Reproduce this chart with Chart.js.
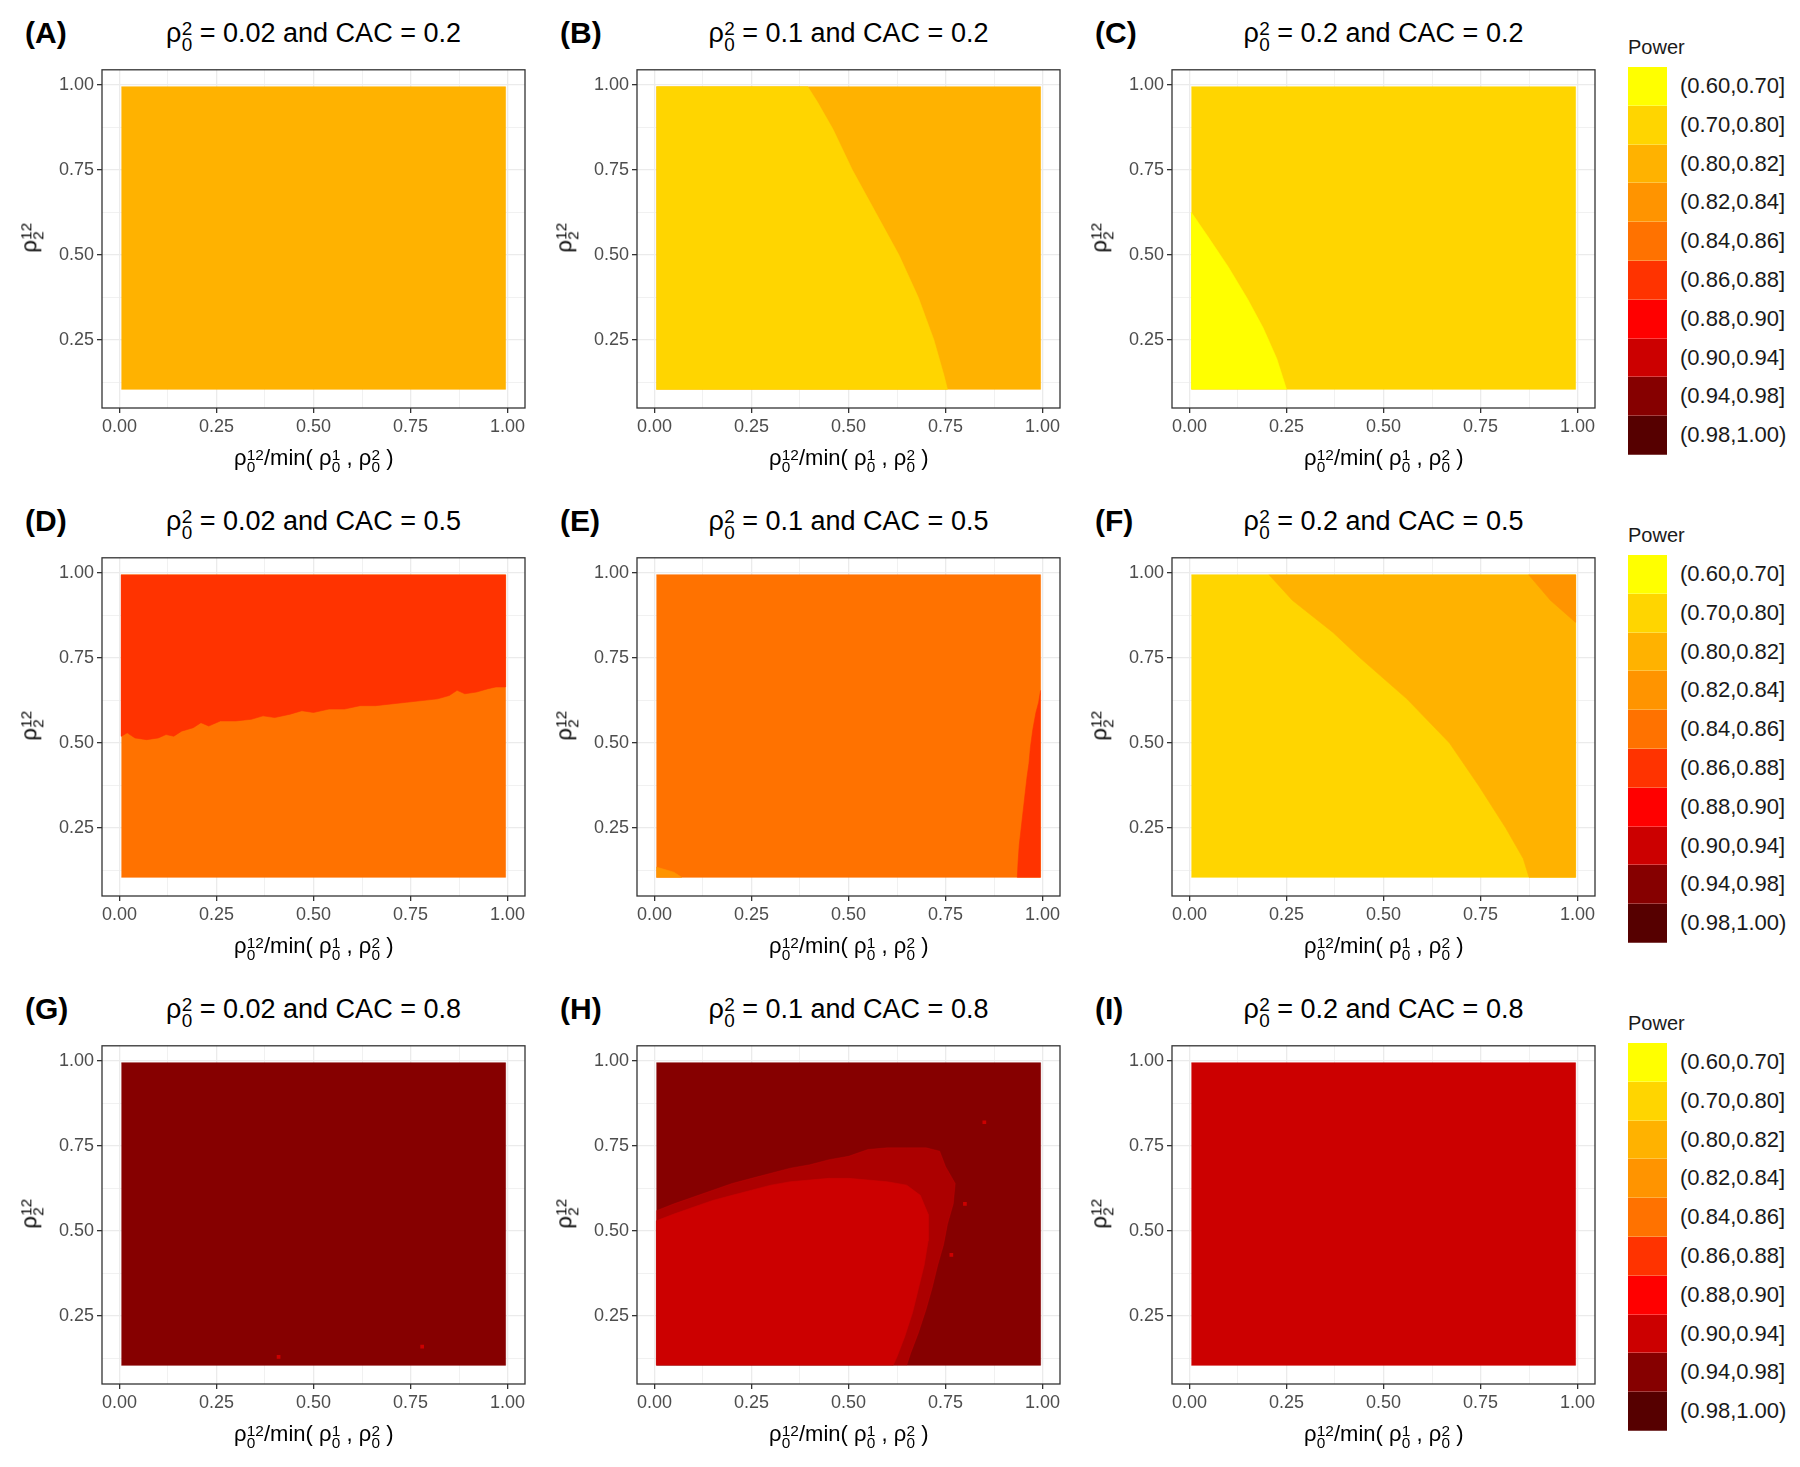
<!DOCTYPE html>
<html>
<head>
<meta charset="utf-8">
<script src="https://cdn.jsdelivr.net/npm/chart.js@4.4.0/dist/chart.umd.min.js"></script>
<style>
  body { margin: 0; background: #fff; font-family: 'Liberation Sans', Arial, sans-serif; }
  #page { position: relative; width: 1800px; height: 1467px; overflow: hidden; background: #fff; }
  canvas, .txt { position: absolute; }
  .txt { white-space: nowrap; color: #000; }
  .ss { display: inline-flex; flex-direction: column; font-size: 0.7em; line-height: 0.8; vertical-align: 0.35em; margin-left: 0.02em; }
</style>
</head>
<body>
<div id="page"></div>
<script>
const FONT = "'Liberation Sans', Arial, sans-serif";

// legend bins and their fill colours
const powerBins = ['(0.60,0.70]', '(0.70,0.80]', '(0.80,0.82]', '(0.82,0.84]', '(0.84,0.86]',
                   '(0.86,0.88]', '(0.88,0.90]', '(0.90,0.94]', '(0.94,0.98]', '(0.98,1.00)'];
const binColors = ['#FFFF00', '#FFD500', '#FFB200', '#FF9400', '#FF7200',
                   '#FF3300', '#FF0000', '#CC0000', '#860000', '#560000'];

const panelTags = ['(A)', '(B)', '(C)', '(D)', '(E)', '(F)', '(G)', '(H)', '(I)'];
const rhoValues = ['0.02', '0.1', '0.2'];   // columns
const cacValues = ['0.2', '0.5', '0.8'];    // rows

const xTickVals = [0, 0.25, 0.5, 0.75, 1];
const yTickVals = [0.25, 0.5, 0.75, 1];
const xGridVals = [0, 0.125, 0.25, 0.375, 0.5, 0.625, 0.75, 0.875, 1];
const yGridVals = [0.125, 0.25, 0.375, 0.5, 0.625, 0.75, 0.875, 1];

// extent of the tile grid
const tileX = [0.005, 0.995];
const tileY = [0.105, 0.995];

// bin covering each whole panel (A..I)
const baseBin = [2, 2, 1, 4, 4, 1, 8, 8, 7];

// region edges
const edgeB = [[0.395, 0.995], [0.42, 0.95], [0.46, 0.87], [0.51, 0.75], [0.57, 0.625], [0.63, 0.5],
               [0.68, 0.375], [0.72, 0.25], [0.745, 0.15], [0.755, 0.105]];
const edgeC = [[0.005, 0.625], [0.05, 0.55], [0.10, 0.465], [0.15, 0.37], [0.19, 0.285], [0.225, 0.195], [0.25, 0.105]];
const edgeD = [[0.005, 0.52], [0.02, 0.53], [0.04, 0.515], [0.07, 0.51], [0.10, 0.515], [0.12, 0.525], [0.14, 0.52],
               [0.16, 0.535], [0.19, 0.545], [0.21, 0.56], [0.23, 0.55], [0.26, 0.565], [0.30, 0.565], [0.34, 0.57],
               [0.37, 0.58], [0.40, 0.575], [0.44, 0.585], [0.47, 0.595], [0.50, 0.59], [0.54, 0.60], [0.58, 0.60],
               [0.62, 0.61], [0.66, 0.61], [0.70, 0.615], [0.74, 0.62], [0.78, 0.625], [0.82, 0.63], [0.85, 0.64],
               [0.87, 0.655], [0.89, 0.645], [0.92, 0.65], [0.95, 0.66], [0.97, 0.665], [0.995, 0.665]];
const edgeE = [[0.995, 0.655], [0.99, 0.62], [0.983, 0.59], [0.975, 0.54], [0.969, 0.49], [0.965, 0.44],
               [0.96, 0.40], [0.955, 0.35], [0.95, 0.30], [0.945, 0.25], [0.94, 0.20], [0.937, 0.15], [0.935, 0.105]];
const speckE = [[0.005, 0.105], [0.07, 0.105], [0.05, 0.12], [0.02, 0.13], [0.005, 0.135]];
const edgeF1 = [[0.205, 0.995], [0.265, 0.92], [0.37, 0.825], [0.44, 0.75], [0.56, 0.63], [0.67, 0.5],
                [0.745, 0.375], [0.815, 0.25], [0.86, 0.16], [0.875, 0.105]];
const edgeF2 = [[0.874, 0.995], [0.93, 0.92], [0.995, 0.855]];
const specksG = [[0.41, 0.13], [0.78, 0.16]];
const outerH = [[0.005, 0.56], [0.05, 0.58], [0.1, 0.6], [0.15, 0.62], [0.2, 0.64], [0.25, 0.655], [0.3, 0.67],
                [0.35, 0.685], [0.4, 0.695], [0.45, 0.71], [0.5, 0.72], [0.55, 0.74], [0.6, 0.745], [0.65, 0.745],
                [0.7, 0.745], [0.735, 0.735], [0.75, 0.69], [0.775, 0.64], [0.77, 0.58], [0.755, 0.52], [0.745, 0.46],
                [0.73, 0.40], [0.715, 0.33], [0.70, 0.27], [0.68, 0.20], [0.66, 0.14], [0.65, 0.105]];
const innerH = [[0.005, 0.53], [0.05, 0.55], [0.1, 0.57], [0.15, 0.59], [0.2, 0.605], [0.25, 0.62], [0.3, 0.635],
                [0.35, 0.645], [0.4, 0.65], [0.45, 0.655], [0.5, 0.655], [0.55, 0.65], [0.6, 0.645], [0.65, 0.635],
                [0.685, 0.605], [0.705, 0.55], [0.705, 0.47], [0.695, 0.40], [0.68, 0.33], [0.665, 0.26], [0.645, 0.19],
                [0.625, 0.13], [0.615, 0.105]];
const specksH = [[0.85, 0.82], [0.80, 0.58], [0.765, 0.43]];

const x0 = tileX[0], x1 = tileX[1], y0 = tileY[0], y1 = tileY[1];
const fullRect = [[x0, y0], [x1, y0], [x1, y1], [x0, y1]];

// overlay regions per panel
const overlays = [
    [],
    [{ bin: 1, pts: [[x0, y1], ...edgeB, [x0, y0]] }],
    [{ bin: 0, pts: [[x0, y0], ...edgeC] }],
    [{ bin: 5, pts: [[x0, y1], ...edgeD, [x1, y1]] }],
    [{ bin: 5, pts: [...edgeE, [x1, y0]] }, { bin: 3, pts: speckE }],
    [{ bin: 2, pts: [...edgeF1, [x1, y0], [x1, y1]] }, { bin: 3, pts: [...edgeF2, [x1, y1]] }],
    [],
    [{ bin: 7, pts: [[x0, y0], ...outerH], alpha: 0.55 }, { bin: 7, pts: [[x0, y0], ...innerH] }],
    []
];
const specks = [[], [], [], [], [], [], { bin: 7, pts: specksG }, { bin: 7, pts: specksH }, []];

// layout (px)
const colLeft = [102, 637, 1172];
const rowTop = [66, 554, 1042];
const plotW = 423, plotH = 342;
const yAxisW = 80, xAxisH = 40, padTop = 10, padRight = 12;

const page = document.getElementById('page');

function addText(html, css) {
    const d = document.createElement('div');
    d.className = 'txt';
    d.innerHTML = html;
    Object.assign(d.style, css);
    page.appendChild(d);
    return d;
}

function hexA(hex, a) {
    const n = parseInt(hex.slice(1), 16);
    return `rgba(${n >> 16},${(n >> 8) & 255},${n & 255},${a})`;
}

const boxPlugin = {
    id: 'box',
    afterDraw(chart) {
        const a = chart.chartArea, c = chart.ctx;
        c.save();
        c.strokeStyle = '#333333';
        c.lineWidth = 1.3;
        c.strokeRect(a.left, a.top, a.right - a.left, a.bottom - a.top);
        c.restore();
    }
};

function polyDataset(pts, color, order) {
    return {
        data: pts.map(([x, y]) => ({ x, y })),
        showLine: true,
        fill: 'shape',
        backgroundColor: color,
        borderColor: color,
        borderWidth: 0.6,
        pointRadius: 0,
        tension: 0,
        order: order
    };
}

function buildPanel(i) {
    const r = Math.floor(i / 3), c = i % 3;
    const canvas = document.createElement('canvas');
    canvas.width = yAxisW + plotW + padRight;
    canvas.height = padTop + plotH + xAxisH;
    canvas.style.left = (colLeft[c] - yAxisW) + 'px';
    canvas.style.top = (rowTop[r] - padTop) + 'px';
    page.appendChild(canvas);

    const datasets = [polyDataset(fullRect, binColors[baseBin[i]], 10)];
    overlays[i].forEach((o, k) => {
        const col = o.alpha ? hexA(binColors[o.bin], o.alpha) : binColors[o.bin];
        datasets.push(polyDataset(o.pts, col, 5 - k));
    });
    if (specks[i].pts) {
        datasets.push({
            data: specks[i].pts.map(([x, y]) => ({ x, y })),
            showLine: false,
            fill: false,
            pointStyle: 'rect',
            pointRadius: 2.6,
            pointBorderWidth: 0,
            pointBackgroundColor: binColors[specks[i].bin],
            order: 0
        });
    }

    const tickFont = { family: FONT, size: 18 };
    new Chart(canvas, {
        type: 'line',
        data: { datasets },
        options: {
            responsive: false,
            animation: false,
            events: [],
            layout: { padding: { top: padTop, right: padRight, left: 0, bottom: 0 } },
            plugins: { legend: { display: false }, tooltip: { enabled: false } },
            scales: {
                x: {
                    type: 'linear', min: -0.045, max: 1.045,
                    afterBuildTicks: s => { s.ticks = xGridVals.map(v => ({ value: v })); },
                    afterFit: s => { s.height = xAxisH; },
                    ticks: {
                        autoSkip: false, maxRotation: 0, padding: 3, color: '#4D4D4D', font: tickFont,
                        callback: v => xTickVals.includes(v) ? v.toFixed(2) : ''
                    },
                    grid: {
                        color: '#EBEBEB',
                        lineWidth: ctx => xTickVals.includes(ctx.tick.value) ? 1.3 : 0.7,
                        tickLength: 5, tickWidth: 1.3,
                        tickColor: ctx => xTickVals.includes(ctx.tick.value) ? '#333333' : 'rgba(0,0,0,0)'
                    },
                    border: { display: false }
                },
                y: {
                    type: 'linear', min: 0.05, max: 1.045,
                    afterBuildTicks: s => { s.ticks = yGridVals.map(v => ({ value: v })); },
                    afterFit: s => { s.width = yAxisW; },
                    ticks: {
                        autoSkip: false, padding: 3, color: '#4D4D4D', font: tickFont,
                        callback: v => yTickVals.includes(v) ? v.toFixed(2) : ''
                    },
                    grid: {
                        color: '#EBEBEB',
                        lineWidth: ctx => yTickVals.includes(ctx.tick.value) ? 1.3 : 0.7,
                        tickLength: 5, tickWidth: 1.3,
                        tickColor: ctx => yTickVals.includes(ctx.tick.value) ? '#333333' : 'rgba(0,0,0,0)'
                    },
                    border: { display: false }
                }
            }
        },
        plugins: [boxPlugin]
    });

    // titles and axis labels
    const cx = colLeft[c] + plotW / 2;
    const cy = rowTop[r] + plotH / 2;
    const ss = (a, b) => `<span class="ss"><span>${a}</span><span>${b}</span></span>`;
    addText(panelTags[i], { left: (colLeft[c] - 77) + 'px', top: (rowTop[r] - 51) + 'px', font: `bold 30px ${FONT}`, lineHeight: '36px' });
    const t = addText(`ρ${ss('2', '0')} = ${rhoValues[c]} and CAC = ${cacValues[r]}`,
        { top: (rowTop[r] - 49) + 'px', font: `27px ${FONT}`, lineHeight: '32px' });
    t.style.left = (cx - t.offsetWidth / 2) + 'px';
    const xl = addText(`ρ${ss('12', '0')}/min( ρ${ss('1', '0')} , ρ${ss('2', '0')} )`,
        { top: (rowTop[r] + plotH + 36) + 'px', font: `22px ${FONT}`, lineHeight: '28px' });
    xl.style.left = (cx - xl.offsetWidth / 2) + 'px';
    const yl = addText(`ρ${ss('12', '2')}`, { font: `22px ${FONT}`, lineHeight: '28px' });
    const w = yl.offsetWidth, h = yl.offsetHeight;
    yl.style.left = (30 + (colLeft[c] - 102) - w / 2) + 'px';
    yl.style.top = (cy - h / 2) + 'px';
    yl.style.transform = 'rotate(-90deg)';
}

for (let i = 0; i < 9; i++) buildPanel(i);

// one legend per row
const keyH = 38.8;
for (let r = 0; r < 3; r++) {
    const top = 67 + 488 * r;
    addText('Power', { left: '1628px', top: (top - 33) + 'px', font: `20px ${FONT}`, lineHeight: '26px', color: '#1a1a1a' });
    powerBins.forEach((lab, k) => {
        const key = document.createElement('div');
        Object.assign(key.style, {
            position: 'absolute', left: '1628px', top: (top + k * keyH) + 'px', width: '39px', height: keyH + 'px',
            background: binColors[k], boxShadow: 'inset 0 -1px 0 rgba(255,255,255,0.25)'
        });
        page.appendChild(key);
        addText(lab, { left: '1680px', top: (top + k * keyH) + 'px', font: `22px ${FONT}`, lineHeight: keyH + 'px', color: '#1a1a1a' });
    });
}
</script>
</body>
</html>
